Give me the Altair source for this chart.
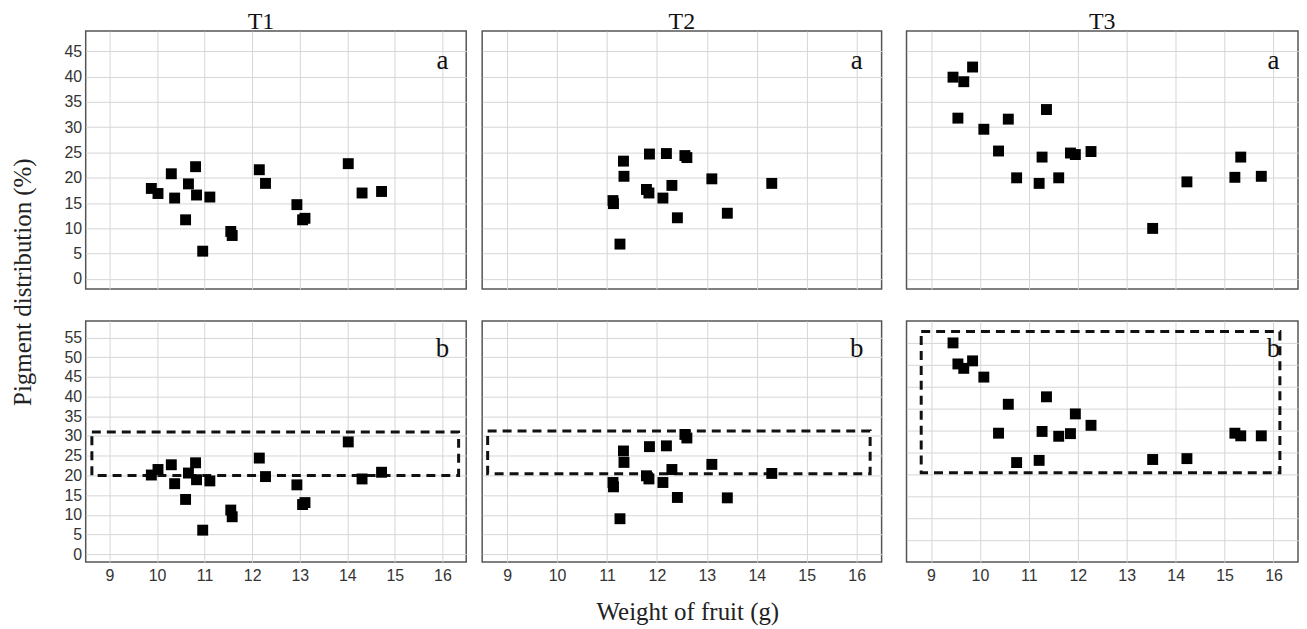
import altair as alt
import pandas as pd

# ---------------- data ----------------
cols = ["T1", "T2", "T3"]
col_dx = [-15, 0, 0]
y_title = "Pigment distribution (%)"
x_title = "Weight of fruit (g)"
x_ticks = [9, 10, 11, 12, 13, 14, 15, 16]
ya_ticks = [0, 5, 10, 15, 20, 25, 30, 35, 40, 45]
yb_ticks = [0, 5, 10, 15, 20, 25, 30, 35, 40, 45, 50, 55]

t1_x = [9.88, 10.02, 10.30, 10.37, 10.60, 10.66, 10.81, 10.83, 11.11, 10.96,
        11.55, 11.58, 12.15, 12.28, 12.94, 13.06, 13.11, 14.02, 14.31, 14.72]
t1_a = [17.9, 16.9, 20.8, 16.0, 11.7, 18.8, 22.2, 16.6, 16.2, 5.5,
        9.4, 8.6, 21.6, 18.9, 14.7, 11.7, 12.0, 22.8, 17.0, 17.3]
t1_b = [20.1, 21.5, 22.7, 17.9, 13.9, 20.6, 23.2, 18.9, 18.6, 6.1,
        11.2, 9.5, 24.4, 19.7, 17.6, 12.6, 13.1, 28.5, 19.1, 20.8]

t2_x = [11.33, 11.34, 11.12, 11.13, 11.26, 11.85, 11.79, 11.84, 12.19, 12.12,
        12.30, 12.56, 12.60, 12.41, 13.10, 13.41, 14.30]
t2_a = [23.3, 20.3, 15.5, 14.9, 6.9, 24.7, 17.7, 17.0, 24.8, 16.0,
        18.5, 24.4, 24.0, 12.1, 19.8, 13.0, 18.9]
t2_b = [26.2, 23.3, 18.2, 17.1, 9.0, 27.3, 19.9, 19.1, 27.5, 18.2,
        21.5, 30.4, 29.5, 14.4, 22.8, 14.3, 20.5]

t3_x = [9.45, 9.67, 9.85, 9.55, 10.08, 10.38, 10.58, 10.75, 11.36, 11.27,
        11.21, 11.61, 11.85, 11.95, 12.27, 13.53, 14.23, 15.21, 15.33, 15.75]
t3_a = [39.9, 39.0, 41.9, 31.8, 29.6, 25.3, 31.6, 20.0, 33.5, 24.1,
        18.9, 20.0, 24.9, 24.6, 25.2, 10.0, 19.2, 20.1, 24.1, 20.3]
t3_b = [50.0, 44.2, 45.9, 45.2, 42.2, 29.4, 36.0, 22.7, 37.7, 29.8,
        23.2, 28.7, 29.3, 33.8, 31.2, 23.4, 23.6, 29.4, 28.8, 28.8]

# dashed boxes (x1, x2, y1, y2) for row b
box_x1 = [8.63, 8.61, 8.80]
box_x2 = [16.34, 16.27, 16.13]
box_y1 = [20.0, 20.4, 20.4]
box_y2 = [31.0, 31.3, 52.6]

# panel letters
letters_a = ["a", "a", "a"]
letters_b = ["b", "b", "b"]
letter_x = 16
letter_ya = [43.0, 43.0, 43.0]
letter_yb = [52.1, 52.1, 48.6]

# ---------------- layout / style ----------------
X_DOM = [8.5, 16.5]
YA_DOM = [-2, 49]
YB_DOM = [[-2, 59.2], [-2, 59.2], [0, 55]]
YB_TICKS = [yb_ticks, yb_ticks, [5, 10, 15, 20, 25, 30, 35, 40, 45, 50]]
WIDTHS = [382, 401, 393]
H_TOP = 259
H_BOT = 242
SERIF = "Liberation Serif"
SANS = "Liberation Sans"


def panel(xs, ys, ydom, yticks, width, height, letter, letter_y,
          show_y, show_x, col_title=None, title_dx=0, with_xtitle=False, box=None):
    df = pd.DataFrame({"x": xs, "y": ys})
    xscale = alt.Scale(domain=X_DOM, nice=False, zero=False)
    yscale = alt.Scale(domain=ydom, nice=False, zero=False)
    xaxis_kw = dict(values=x_ticks, labels=show_x, title=None, grid=True,
                    ticks=False, tickSize=0, domain=False, labelPadding=6)
    if with_xtitle:
        xaxis_kw.update(title=x_title, titleFont=SERIF, titleFontSize=25,
                        titleFontWeight="normal", titleColor="#222",
                        titleX=206, titlePadding=16)
    xaxis = alt.Axis(**xaxis_kw)
    yaxis = alt.Axis(values=yticks, labels=show_y, title=None, grid=True,
                     ticks=False, tickSize=0, domain=False, labelPadding=4)

    layers = []
    if box is not None:
        bdf = pd.DataFrame({"x1": [box[0]], "x2": [box[1]],
                            "y1": [box[2]], "y2": [box[3]]})
        layers.append(
            alt.Chart(bdf).mark_rect(fillOpacity=0, stroke="#111",
                                     strokeWidth=3, strokeDash=[9, 6])
            .encode(x=alt.X("x1:Q", scale=xscale, axis=xaxis),
                    x2="x2:Q",
                    y=alt.Y("y1:Q", scale=yscale, axis=yaxis),
                    y2="y2:Q")
        )
    layers.append(
        alt.Chart(df).mark_square(size=120, color="#000", opacity=1)
        .encode(x=alt.X("x:Q", scale=xscale, axis=xaxis),
                y=alt.Y("y:Q", scale=yscale, axis=yaxis))
    )
    tdf = pd.DataFrame({"x": [letter_x], "y": [letter_y], "t": [letter]})
    layers.append(
        alt.Chart(tdf).mark_text(font=SERIF, fontSize=27, color="#111",
                                 baseline="middle", align="center")
        .encode(x=alt.X("x:Q", scale=xscale, axis=xaxis),
                y=alt.Y("y:Q", scale=yscale, axis=yaxis),
                text="t:N")
    )
    ch = alt.layer(*layers).properties(width=width, height=height)
    if col_title is not None:
        ch = ch.properties(title=alt.TitleParams(col_title, font=SERIF, fontSize=24,
                                                 fontWeight="normal", color="#111",
                                                 anchor="middle", frame="group",
                                                 offset=-3, dx=title_dx))
    return ch


xs_all = [t1_x, t2_x, t3_x]
a_all = [t1_a, t2_a, t3_a]
b_all = [t1_b, t2_b, t3_b]

top = [panel(xs_all[i], a_all[i], YA_DOM, ya_ticks, WIDTHS[i], H_TOP,
             letters_a[i], letter_ya[i], show_y=(i == 0), show_x=False,
             col_title=cols[i], title_dx=col_dx[i]) for i in range(3)]
bot = [panel(xs_all[i], b_all[i], YB_DOM[i], YB_TICKS[i], WIDTHS[i], H_BOT,
             letters_b[i], letter_yb[i], show_y=(i == 0), show_x=True,
             with_xtitle=(i == 1),
             box=(box_x1[i], box_x2[i], box_y1[i], box_y2[i])) for i in range(3)]

top_row = alt.hconcat(alt.hconcat(top[0], top[1], spacing=14), top[2], spacing=23)
bot_row = alt.hconcat(alt.hconcat(bot[0], bot[1], spacing=14), bot[2], spacing=23)

grid = alt.vconcat(top_row, bot_row, spacing=30)

ytitle_chart = (
    alt.Chart(pd.DataFrame({"t": [y_title]}))
    .mark_text(angle=270, font=SERIF, fontSize=25, color="#222",
               baseline="middle", align="center")
    .encode(text="t:N", x=alt.value(14), y=alt.value(252))
    .properties(width=28, height=600,
                view=alt.ViewBackground(stroke="transparent"))
)

chart = (
    alt.hconcat(ytitle_chart, grid, spacing=25)
    .properties(padding=0, background="white")
    .configure_view(stroke="#555", strokeWidth=1.5)
    .configure_axis(gridColor="#d6d6d6", gridWidth=1, labelFont=SANS,
                    labelFontSize=16, labelColor="#333")
)

chart.save("out.html", embed_options={"renderer": "svg", "actions": False})
